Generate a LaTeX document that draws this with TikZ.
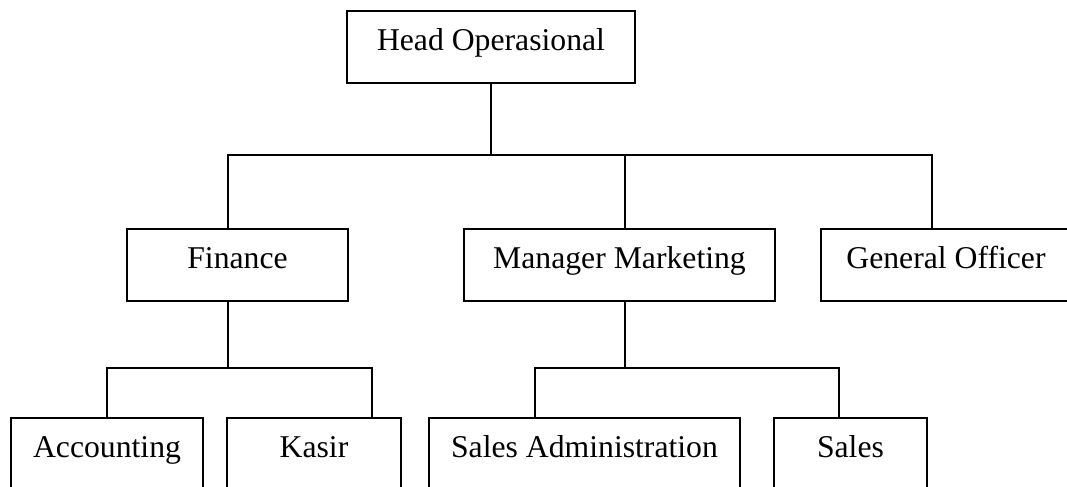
\documentclass[tikz,border=0pt]{standalone}
\usepackage{fontspec}
\setmainfont{Liberation Serif}
\usetikzlibrary{positioning,calc}

\begin{document}
\begin{tikzpicture}[x=0.5pt, y=-0.5pt,
    unitbox/.style={draw, line width=0.9pt, rectangle, inner sep=0pt, anchor=north,
        text height=20pt, text depth=16pt, font=\fontsize{15.85}{19}\selectfont},
    link/.style={line width=0.9pt}]
    \useasboundingbox (0,0) rectangle (1067,487);

    % Top
    \node[unitbox, minimum width=144pt] (head) at (491,10) {Head Operasional};

    % Second level
    \node[unitbox, minimum width=110.5pt] (fin) at (237.5,227.7) {Finance};
    \node[unitbox, minimum width=155.5pt] (mkt) at (619.5,227.7) {Manager Marketing};
    \node[unitbox, minimum width=125pt] (gen) at (946,227.7) {General Officer};

    % Third level
    \node[unitbox, minimum width=96pt] (acc) at (107,417) {Accounting};
    \node[unitbox, minimum width=87pt] (kas) at (314,417) {Kasir};
    \node[unitbox, minimum width=155.5pt] (adm) at (584.5,417) {Sales Administration};
    \node[unitbox, minimum width=76.5pt] (sal) at (850.5,417) {Sales};

    % Bus points
    \coordinate (hub) at (491,155);
    \coordinate (finhub) at (228,368);
    \coordinate (mkthub) at (625,368);

    % Lines
    \draw[link] (head.south) -- (hub);
    \draw[link] ([xshift=-4.75pt]fin.north) |- (hub) -| ([xshift=-7pt]gen.north);
    \draw[link] ([xshift=2.75pt]mkt.north) |- (hub);
    \draw[link] ([xshift=-4.75pt]fin.south) -- (finhub);
    \draw[link] (acc.north) |- (finhub) -| ([xshift=29pt]kas.north);
    \draw[link] ([xshift=2.75pt]mkt.south) -- (mkthub);
    \draw[link] ([xshift=-24.75pt]adm.north) |- (mkthub) -| ([xshift=-5.75pt]sal.north);
\end{tikzpicture}
\end{document}
